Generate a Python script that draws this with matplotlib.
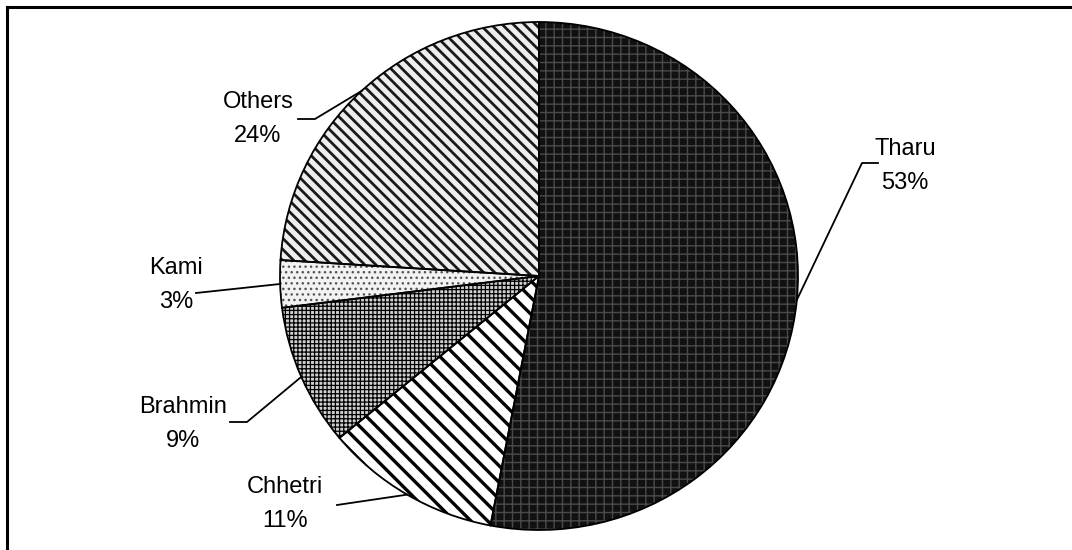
import numpy as np
import matplotlib
matplotlib.use("Agg")
import matplotlib.pyplot as plt
from matplotlib.lines import Line2D

# data
groups = ["Tharu", "Chhetri", "Brahmin", "Kami", "Others"]
shares = [53, 11, 9, 3, 24]

# fill patterns (face, hatch, hatch colour, hatch width)
faces = ["#111111", "white", "#d0d0d0", "#f2f2f2", "#eeeeee"]
hatches = ["++", "\\\\", "++++", "...", "\\\\\\"]
hatch_cols = ["#4a4a4a", "black", "black", "#555555", "#1a1a1a"]
hatch_lws = [1.0, 2.4, 0.9, 1.0, 2.0]

# label spots in pixels (text centre) and elbow of leader
label_xy = [(905, 166), (285, 504), (183, 424), (176, 285), (258, 119)]
elbow_xy = [(862, 163), (337, 505), (247, 422), (196, 293), (315, 119)]
tail_xy = [(878, 163), (337, 505), (230, 422), (196, 293), (298, 119)]

W, H = 1072, 550
cx, cy, rx, ry = 539, 276, 259, 254

plt.rcParams["font.family"] = ["Liberation Sans", "DejaVu Sans"]

fig = plt.figure(figsize=(W / 100, H / 100), dpi=100)
ax = fig.add_axes([(cx - rx) / W, (H - cy - ry) / H, 2 * rx / W, 2 * ry / H])

# fill pass
wedges, _ = ax.pie(shares, startangle=90, counterclock=False, radius=1,
                   colors=faces, wedgeprops=dict(linewidth=0))
for w, h, hc, hl in zip(wedges, hatches, hatch_cols, hatch_lws):
    w.set_hatch(h)
    w.set_edgecolor(hc)
    if hasattr(w, "set_hatch_linewidth"):
        w.set_hatch_linewidth(hl)

# outline pass
ax.pie(shares, startangle=90, counterclock=False, radius=1,
       colors=["none"] * len(shares),
       wedgeprops=dict(linewidth=1.3, edgecolor="black"))

ax.set_aspect("auto")
ax.set_xlim(-1, 1)
ax.set_ylim(-1, 1)
ax.axis("off")


def to_fig(px, py):
    return px / W, 1 - py / H


# labels and leader lines
for w, g, s, lab, elb, tail in zip(wedges, groups, shares, label_xy, elbow_xy, tail_xy):
    mid = np.deg2rad((w.theta1 + w.theta2) / 2)
    ex = cx + rx * np.cos(mid)
    ey = cy - ry * np.sin(mid)
    xs, ys = zip(to_fig(ex, ey), to_fig(*elb), to_fig(*tail))
    fig.add_artist(Line2D(xs, ys, color="black", lw=1.3, transform=fig.transFigure))
    tx, ty = to_fig(*lab)
    fig.text(tx, ty, f"{g}\n{s}%", ha="center", va="center", fontsize=17,
             linespacing=1.72)

# frame (only top and left visible)
fig.add_artist(Line2D([7 / W, 1], [1 - 7 / H, 1 - 7 / H], color="black", lw=2.2,
                      transform=fig.transFigure))
fig.add_artist(Line2D([7 / W, 7 / W], [0, 1 - 7 / H], color="black", lw=2.2,
                      transform=fig.transFigure))

fig.savefig("out.png", dpi=100)
